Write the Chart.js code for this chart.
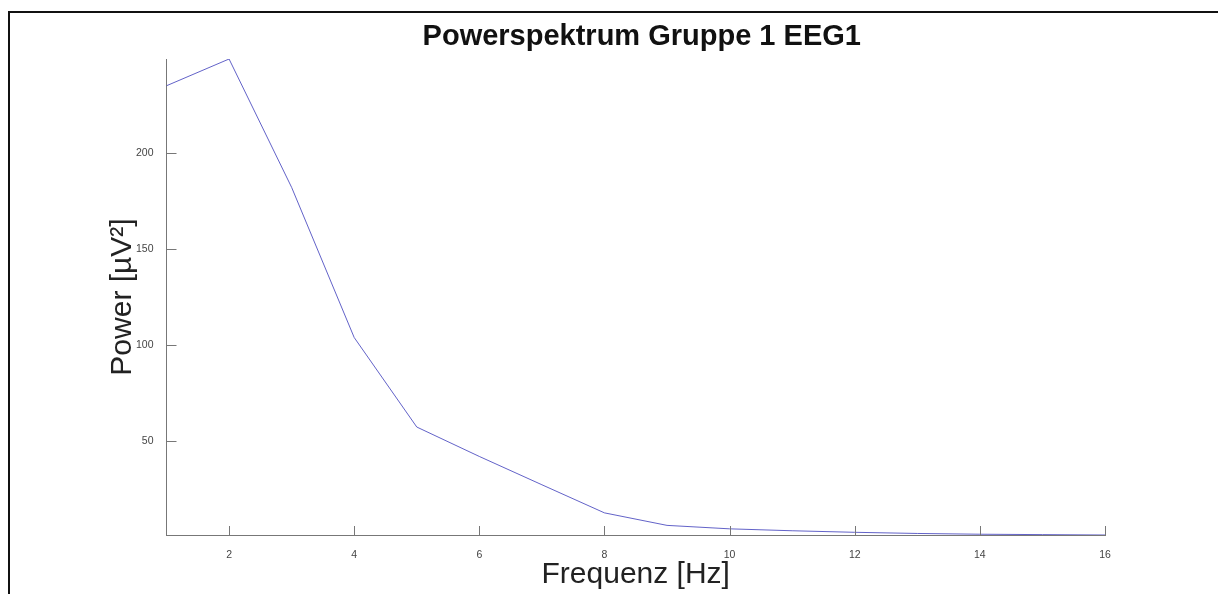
<!DOCTYPE html>
<html>
<head>
<meta charset="utf-8">
<script src="https://cdn.jsdelivr.net/npm/chart.js@4.4.1/dist/chart.umd.min.js"></script>
<style>
  html, body { margin: 0; padding: 0; background: #fff; }
  #wrap { position: relative; width: 1218px; height: 594px; }
  #frame { position: absolute; left: 8px; top: 11px; right: 0; bottom: -10px;
           border-left: 2px solid #111; border-top: 2px solid #111; }
  canvas { position: absolute; left: 0; top: 0; }
</style>
</head>
<body>
<div id="wrap">
  <div id="frame"></div>
  <canvas id="chart" width="1218" height="594"></canvas>
</div>
<script>
const freqs = [1, 2, 3, 4, 5, 6, 7, 8, 9, 10, 11, 12, 13, 14, 15, 16];
const power = [234.8, 248.7, 182, 104, 57.5, 42.2, 27.5, 12.9, 6.4, 4.6, 3.6, 2.8, 2.2, 1.8, 1.6, 1.4];
const xTicks = [2, 4, 6, 8, 10, 12, 14, 16];
const yTicks = [50, 100, 150, 200];

const titleText = 'Powerspektrum Gruppe 1 EEG1';
const xTitle = 'Frequenz [Hz]';
const yTitle = 'Power [µV²]';

// matlab style ticks pointing into the axes, plus the title over the axes
const insideTicks = {
  id: 'insideTicks',
  afterDraw(chart) {
    const { ctx, chartArea, scales } = chart;
    ctx.save();
    ctx.strokeStyle = '#777';
    ctx.lineWidth = 1;
    ctx.beginPath();
    xTicks.forEach(v => {
      const px = Math.round(scales.x.getPixelForValue(v)) + 0.5;
      ctx.moveTo(px, chartArea.bottom);
      ctx.lineTo(px, chartArea.bottom - 9);
    });
    yTicks.forEach(v => {
      const py = Math.round(scales.y.getPixelForValue(v)) + 0.5;
      ctx.moveTo(chartArea.left, py);
      ctx.lineTo(chartArea.left + 10, py);
    });
    ctx.stroke();

    ctx.fillStyle = '#111';
    ctx.font = 'bold 29px "Liberation Sans", Arial, sans-serif';
    ctx.textAlign = 'center';
    ctx.textBaseline = 'middle';
    ctx.fillText(titleText, (chartArea.left + chartArea.right) / 2 + 6, 37);
    ctx.restore();
  }
};

new Chart(document.getElementById('chart'), {
  type: 'line',
  data: {
    datasets: [{
      data: freqs.map((f, i) => ({ x: f, y: power[i] })),
      borderColor: 'rgba(70, 70, 190, 0.85)',
      borderWidth: 1,
      pointRadius: 0,
      tension: 0,
      fill: false
    }]
  },
  options: {
    responsive: false,
    animation: false,
    layout: { padding: { left: 8, right: 113, top: 59, bottom: 0 } },
    plugins: {
      legend: { display: false },
      tooltip: { enabled: false }
    },
    scales: {
      x: {
        type: 'linear',
        min: 1,
        max: 16,
        afterBuildTicks: s => { s.ticks = xTicks.map(v => ({ value: v })); },
        afterFit: s => { s.height = 59; },
        grid: { display: false },
        border: { display: true, color: '#777', width: 1 },
        ticks: {
          padding: 6,
          color: '#444',
          font: { family: '"Liberation Sans", Arial, sans-serif', size: 10.5 }
        },
        title: {
          display: true,
          text: xTitle,
          color: '#222',
          padding: { top: 0, bottom: 1 },
          font: { family: '"Liberation Sans", Arial, sans-serif', size: 30 }
        }
      },
      y: {
        type: 'linear',
        min: 1.4,
        max: 248.7,
        afterBuildTicks: s => { s.ticks = yTicks.map(v => ({ value: v })); },
        afterFit: s => { s.width = 158.5; },
        grid: { display: false },
        border: { display: true, color: '#777', width: 1 },
        ticks: {
          padding: 5,
          color: '#444',
          font: { family: '"Liberation Sans", Arial, sans-serif', size: 10.5 }
        },
        title: {
          display: true,
          text: yTitle,
          color: '#222',
          padding: { top: 97, bottom: 0 },
          font: { family: '"Liberation Sans", Arial, sans-serif', size: 30 }
        }
      }
    }
  },
  plugins: [insideTicks]
});
</script>
</body>
</html>
